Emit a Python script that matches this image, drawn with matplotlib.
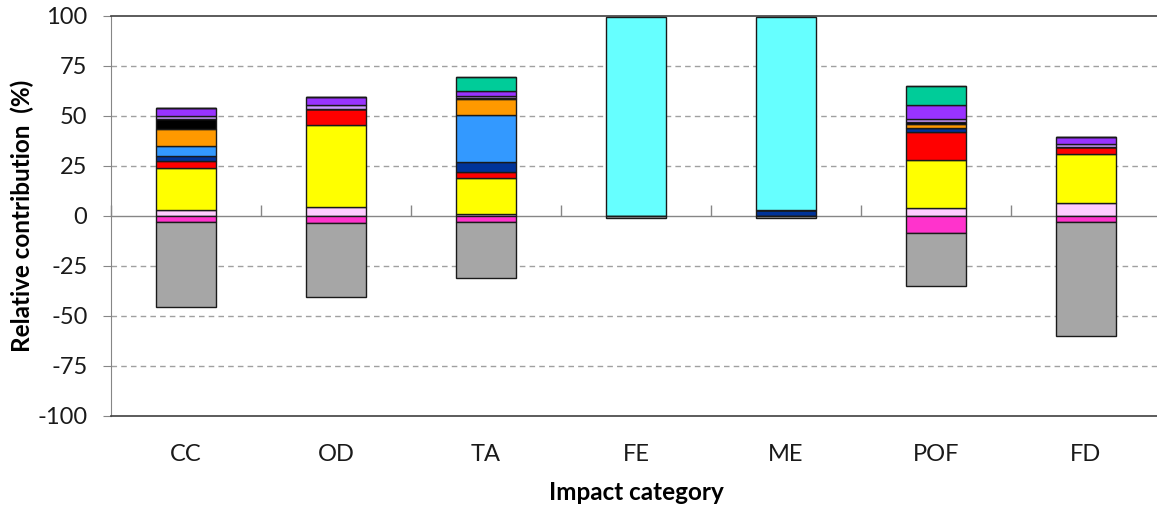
import matplotlib
matplotlib.use("Agg")
import matplotlib.pyplot as plt
import numpy as np

plt.rcParams['font.family'] = ['Lato', 'DejaVu Sans']
plt.rcParams['axes.unicode_minus'] = False

categories = ['CC', 'OD', 'TA', 'FE', 'ME', 'POF', 'FD']

# positive contributions, stacked bottom to top (%)
light_pink = [3.0, 4.3, 1.2, 0.0, 0.0, 3.8, 6.3]
yellow = [21.0, 41.0, 18.0, 0.0, 0.0, 24.2, 24.5]
red = [3.3, 8.0, 3.0, 0.0, 0.0, 14.2, 3.5]
dark_blue = [2.7, 0.0, 4.6, 0.0, 3.0, 2.0, 0.0]
light_blue = [5.0, 0.0, 23.7, 0.0, 0.0, 0.0, 0.0]
orange = [8.3, 0.0, 8.0, 0.0, 0.0, 1.8, 0.0]
black = [5.3, 0.3, 0.5, 0.0, 0.0, 0.8, 0.3]
lavender = [1.2, 1.7, 0.8, 0.0, 0.0, 1.6, 1.5]
purple = [4.3, 4.3, 2.5, 0.0, 0.0, 7.1, 3.5]
teal = [0.0, 0.0, 7.0, 0.0, 0.0, 9.7, 0.0]
cyan = [0.0, 0.0, 0.0, 99.3, 96.4, 0.0, 0.0]

# negative contributions, stacked downward from zero (%)
magenta = [-2.8, -3.7, -2.8, 0.0, 0.0, -8.3, -2.8]
gray = [-42.9, -37.0, -28.3, -0.8, -0.8, -26.5, -57.0]

positive = [
    (light_pink, '#FFCCFF'), (yellow, '#FFFF00'), (red, '#FF0000'),
    (dark_blue, '#003399'), (light_blue, '#3399FF'), (orange, '#FF9900'),
    (black, '#000000'), (lavender, '#CC99FF'), (purple, '#9933FF'),
    (teal, '#00CC99'), (cyan, '#66FFFF'),
]
negative = [(magenta, '#FF33CC'), (gray, '#A6A6A6')]

fig = plt.figure(figsize=(11.57, 5.09), dpi=100)
ax = fig.add_axes([111 / 1157, 1 - 416 / 509, 1050 / 1157, 400 / 509])

x = np.arange(len(categories))
width = 0.4

bottom = np.zeros(len(categories))
for values, color in positive:
    v = np.array(values)
    ax.bar(x, v, width, bottom=bottom, color=color, edgecolor='#1a1a1a',
           linewidth=1.0, zorder=3)
    bottom += v

bottom = np.zeros(len(categories))
for values, color in negative:
    v = np.array(values)
    ax.bar(x, v, width, bottom=bottom, color=color, edgecolor='#1a1a1a',
           linewidth=1.0, zorder=3)
    bottom += v

ax.set_xlim(-0.5, len(categories) - 0.5)
ax.set_ylim(-100, 100)
ax.set_yticks(np.arange(-100, 101, 25))
ax.tick_params(axis='y', labelsize=17, direction='out', length=6,
               color='#868686', pad=11, labelcolor='#1a1a1a')

# dashed gridlines; the zero line comes from the category axis
for yv in [-75, -50, -25, 25, 50, 75]:
    ax.axhline(yv, color='#a0a0a0', linestyle=(0, (4, 3)), linewidth=1.0, zorder=1)

# category axis crossing at zero with ticks between categories
sec = ax.secondary_xaxis(0.5)
sec.set_xticks(np.arange(-0.5, len(categories), 1.0))
sec.set_xticklabels([])
sec.tick_params(direction='out', length=8, color='#868686', width=1.0)
for sp in sec.spines.values():
    sp.set_color('#868686')
    sp.set_linewidth(1.0)

ax.set_xticks(x)
ax.set_xticklabels(categories)
ax.tick_params(axis='x', length=0, labelsize=17, pad=20, labelcolor='#1a1a1a')

for side in ['top', 'bottom']:
    ax.spines[side].set_color('#404040')
    ax.spines[side].set_linewidth(1.2)
ax.spines['left'].set_color('#868686')
ax.spines['right'].set_visible(False)

ax.set_ylabel('Relative contribution  (%)', fontsize=17.5, fontweight='bold', labelpad=2)
ax.set_xlabel('Impact category', fontsize=17.5, fontweight='bold', labelpad=12)

fig.savefig('out.png', dpi=100, facecolor='white')
